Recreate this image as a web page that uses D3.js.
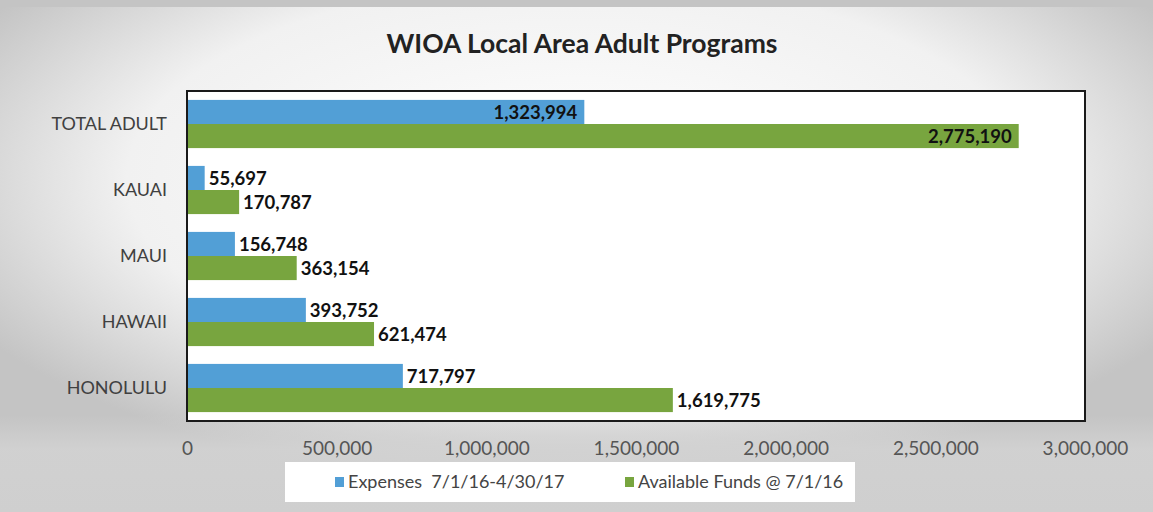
<!DOCTYPE html>
<html>
<head>
<meta charset="utf-8">
<script src="https://cdn.jsdelivr.net/npm/d3@7"></script>
<style>
  html, body { margin: 0; padding: 0; background: #d4d4d4; }
  svg { display: block; font-family: Lato, "Open Sans", sans-serif; }
</style>
</head>
<body>
<svg id="chart"></svg>
<script>
const width = 1153;
const height = 512;

const categories = ["TOTAL ADULT", "KAUAI", "MAUI", "HAWAII", "HONOLULU"];
const seriesNames = ["Expenses  7/1/16-4/30/17", "Available Funds @ 7/1/16"];
const expenses = [1323994, 55697, 156748, 393752, 717797];
const available = [2775190, 170787, 363154, 621474, 1619775];
const tickValues = [0, 500000, 1000000, 1500000, 2000000, 2500000, 3000000];
const colors = ["#529fd6", "#78a53f"];

const margin = { top: 91, right: 68, bottom: 91, left: 187 };

const svg = d3.select("#chart")
    .attr("width", width)
    .attr("height", height);

// scanned-paper background: white middle, grey edges
const defs = svg.append("defs");
const bg = defs.append("radialGradient")
    .attr("id", "paper")
    .attr("cx", "0.5").attr("cy", "0.35")
    .attr("r", "0.6");
bg.append("stop").attr("offset", "0%").attr("stop-color", "#ffffff");
bg.append("stop").attr("offset", "65%").attr("stop-color", "#f1f1f1");
bg.append("stop").attr("offset", "100%").attr("stop-color", "#c4c4c4");

const bottom = defs.append("linearGradient")
    .attr("id", "bottomShade")
    .attr("x1", 0).attr("y1", 0).attr("x2", 0).attr("y2", 1);
bottom.append("stop").attr("offset", "0%").attr("stop-color", "#d2d2d2").attr("stop-opacity", 0);
bottom.append("stop").attr("offset", "35%").attr("stop-color", "#d2d2d2").attr("stop-opacity", 0.9);
bottom.append("stop").attr("offset", "100%").attr("stop-color", "#cfcfcf").attr("stop-opacity", 1);

svg.append("rect")
    .attr("width", width).attr("height", height)
    .attr("fill", "url(#paper)");
svg.append("rect")
    .attr("x", 0).attr("y", 415)
    .attr("width", width).attr("height", height - 415)
    .attr("fill", "url(#bottomShade)");
svg.append("rect")
    .attr("x", 0).attr("y", 0)
    .attr("width", width).attr("height", 7)
    .attr("fill", "#c4c4c4");

// Title
svg.append("text")
    .attr("x", 582)
    .attr("y", 53)
    .attr("text-anchor", "middle")
    .attr("font-size", 26.5)
    .attr("font-weight", "bold")
    .attr("fill", "#222")
    .text("WIOA Local Area Adult Programs");

const x = d3.scaleLinear()
    .domain([0, 3000000])
    .range([margin.left, width - margin.right]);

const y = d3.scaleBand()
    .domain(categories)
    .range([margin.top, height - margin.bottom])
    .paddingInner(0.27)
    .paddingOuter(0.135);

const ySub = d3.scaleBand()
    .domain([0, 1])
    .range([0, y.bandwidth()]);

// plot area
svg.append("rect")
    .attr("x", margin.left)
    .attr("y", margin.top)
    .attr("width", width - margin.left - margin.right)
    .attr("height", height - margin.top - margin.bottom)
    .attr("fill", "#ffffff")
    .attr("stroke", "#1a1a1a")
    .attr("stroke-width", 2);

const rows = categories.map((c, i) => ({ category: c, values: [expenses[i], available[i]] }));

const groups = svg.selectAll(".group")
    .data(rows)
    .enter()
    .append("g")
    .attr("class", "group")
    .attr("transform", d => `translate(0, ${y(d.category)})`);

const fmt = d3.format(",");

groups.selectAll("rect")
    .data(d => d.values.map((v, s) => ({ v, s })))
    .enter()
    .append("rect")
    .attr("x", x(0) + 1)
    .attr("y", d => ySub(d.s))
    .attr("width", d => x(d.v) - x(0))
    .attr("height", ySub.bandwidth())
    .attr("fill", d => colors[d.s]);

// value labels: inside end on the total row, outside end for the rest
groups.selectAll(".val")
    .data(d => d.values.map((v, s) => ({ v, s, inside: d.category === "TOTAL ADULT" })))
    .enter()
    .append("text")
    .attr("class", "val")
    .attr("x", d => d.inside ? x(d.v) - 6 : x(d.v) + 5)
    .attr("y", d => ySub(d.s) + ySub.bandwidth() / 2)
    .attr("dy", "0.36em")
    .attr("text-anchor", d => d.inside ? "end" : "start")
    .attr("font-size", 18.5)
    .attr("font-weight", "bold")
    .attr("fill", "#111")
    .text(d => fmt(d.v));

// category labels
svg.selectAll(".cat")
    .data(categories)
    .enter()
    .append("text")
    .attr("class", "cat")
    .attr("x", 167)
    .attr("y", d => y(d) + y.bandwidth() / 2)
    .attr("dy", "0.36em")
    .attr("text-anchor", "end")
    .attr("font-size", 18)
    .attr("fill", "#404040")
    .text(d => d);

// x axis labels
const xAxis = d3.axisBottom(x)
    .tickValues(tickValues)
    .tickSize(0)
    .tickPadding(21)
    .tickFormat(d3.format(","));

svg.append("g")
    .attr("transform", `translate(0, ${height - margin.bottom})`)
    .call(xAxis)
    .call(g => g.select(".domain").remove())
    .call(g => g.selectAll("text")
        .attr("font-family", "Lato, sans-serif")
        .attr("font-size", 19)
        .attr("fill", "#555"));

// legend
const legend = svg.append("g").attr("transform", "translate(285, 462)");
legend.append("rect")
    .attr("width", 570)
    .attr("height", 40)
    .attr("fill", "#ffffff");

const legendX = [50, 340];
const items = legend.selectAll(".item")
    .data(seriesNames)
    .enter()
    .append("g")
    .attr("class", "item")
    .attr("transform", (d, i) => `translate(${legendX[i]}, 20)`);

items.append("rect")
    .attr("x", 0).attr("y", -5)
    .attr("width", 9).attr("height", 10)
    .attr("fill", (d, i) => colors[i]);

items.append("text")
    .attr("x", 13)
    .attr("dy", "0.36em")
    .attr("font-size", 18)
    .attr("fill", "#444")
    .style("white-space", "pre")
    .text(d => d);
</script>
</body>
</html>
